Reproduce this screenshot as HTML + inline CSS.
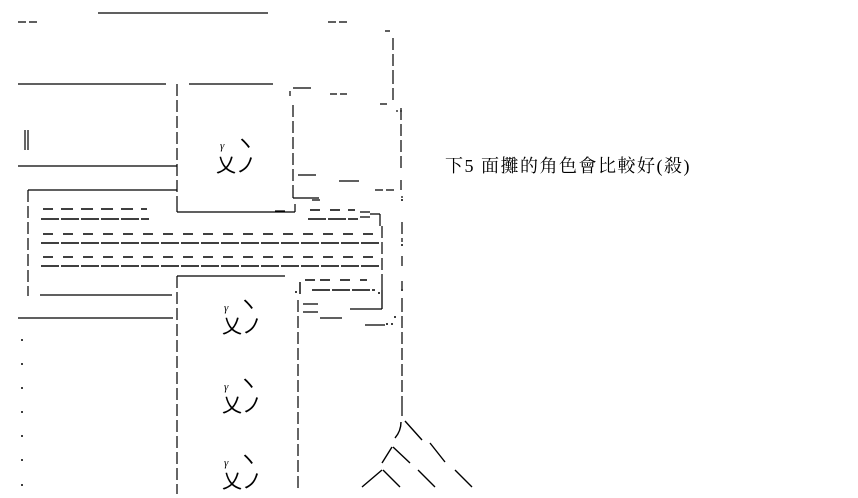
<!DOCTYPE html>
<html><head><meta charset="utf-8"><style>
html,body{margin:0;padding:0;background:#fff;width:858px;height:498px;overflow:hidden}
svg{display:block}
text{font-family:"Liberation Serif","Noto Serif CJK SC",serif;fill:#000}
</style></head><body>
<svg width="858" height="498" viewBox="0 0 858 498" xmlns="http://www.w3.org/2000/svg">
<g stroke="#000" stroke-width="1.2" fill="none">
<path d="M18 22h8M29 22h8M98 13h170M328 22h8M339 22h8M385 31h5"/>
<path d="M393 38v12M393 54v12M393 70v14M393 88v12"/>
<path d="M18 84h148M189 84h84"/>
<path d="M177 84v12M177 100v12M177 116v12M177 132v12M177 148v12M177 164v12M177 180v12M177 196v16"/>
<path d="M177 212h118M295 204v8M275 211h10"/>
<path d="M25 130v20M28 130v20"/>
<path d="M18 166h159M28 190h149M28 190v12M28 206v12M28 222v12M28 238v12M28 254v12M28 270v12M28 286v10"/>
<path d="M290 91v5M293 88h18M293 105v12M293 121v12M293 137v12M293 153v12M293 169v12M293 185v13M293 198h26M312 200h8"/>
<path d="M330 94h7M340 94h7M380 104h7M298 175h18M339 181h20M375 190h8M386 190h8"/>
<path d="M401 108v12M401 124v12M401 140v12M401 156v12M401 180v10"/>
<path d="M402 196v2M402 222v12M402 238v4M402 256v6M402 262v4M402 281v8M402 298v2M402 300v12M402 316v12M402 332v12M402 348v12M402 364v12M402 380v12M402 396v20"/>
<path d="M43 209h10M61 209h12M81 209h12M101 209h12M121 209h12M141 209h6" stroke-width="1.6"/>
<path d="M41 219h108" stroke-width="1.6" stroke-dasharray="18 2"/>
<path d="M43 234h340" stroke-width="1.6" stroke-dasharray="10 10"/>
<path d="M41 243h340" stroke-width="1.6" stroke-dasharray="18 2"/>
<path d="M43 257h340" stroke-width="1.6" stroke-dasharray="10 10"/>
<path d="M41 266h340" stroke-width="1.6" stroke-dasharray="18 2"/>
<path d="M310 210h10M330 210h10M348 210h7" stroke-width="1.6"/>
<path d="M308 219h50" stroke-width="1.6" stroke-dasharray="18 2"/>
<path d="M360 212h10M360 217h10M370 214h10M380 214v12M382 226v12M382 242v12M382 258v12M382 274v12M382 286v4"/>
<path d="M40 295h132M177 276h108M177 276v12M177 292v12M177 308v12"/>
<path d="M18 318h155"/>
<path d="M300 282v12M305 280h10M320 280h10M340 280h10M360 280h7" stroke-width="1.4"/>
<path d="M312 290h63" stroke-width="1.6" stroke-dasharray="18 2"/>
<path d="M298 300v12M298 316v12M298 332v12M298 348v12M298 364v12M298 380v12M298 396v12M298 412v12M298 428v12M298 444v12M298 460v12M298 476v12"/>
<path d="M177 324v12M177 340v12M177 356v12M177 372v12M177 388v12M177 404v12M177 420v12M177 436v12M177 452v12M177 468v12M177 484v10"/>
<path d="M303 304h15M303 312h15M320 318h22M350 309h32M382 290v19M365 325h20" stroke-width="1.3"/>
<path d="M401 422q0 9-6 16M405 421l17 19M392 447l-10 16M393 447l17 16M430 443l15 19M382 470l-20 17M383 470l17 17M418 470l17 17M455 470l17 17" stroke-width="1.4"/>
</g>
<g fill="#000">
<circle cx="401" cy="111" r="0.9"/><circle cx="397" cy="111" r="0.9"/>
<circle cx="402" cy="200" r="1"/><circle cx="402" cy="245" r="1"/><circle cx="402" cy="290" r="1"/>
<circle cx="296" cy="292" r="1"/><circle cx="379" cy="293" r="1"/>
<circle cx="387" cy="324" r="1"/><circle cx="392" cy="324" r="1"/><circle cx="395" cy="317" r="1"/>
<circle cx="22" cy="340" r="1"/><circle cx="22" cy="364" r="1"/><circle cx="22" cy="388" r="1"/><circle cx="22" cy="412" r="1"/><circle cx="22" cy="436" r="1"/><circle cx="22" cy="460" r="1"/><circle cx="22" cy="485" r="1"/>
</g>
<g font-size="11"><text x="220" y="149" font-style="italic">γ</text><text x="224" y="311" font-style="italic">γ</text><text x="224" y="390" font-style="italic">γ</text><text x="224" y="466" font-style="italic">γ</text></g>
<g font-size="20">
<text x="235" y="150" style="font-family:'Noto Sans CJK JP',sans-serif">ヽ</text>
<text x="216" y="172" style="font-family:'Noto Sans CJK JP',sans-serif">乂ノ</text>
<text x="238" y="311" style="font-family:'Noto Sans CJK JP',sans-serif">ヽ</text>
<text x="222" y="333" style="font-family:'Noto Sans CJK JP',sans-serif">乂ノ</text>
<text x="238" y="390" style="font-family:'Noto Sans CJK JP',sans-serif">ヽ</text>
<text x="222" y="412" style="font-family:'Noto Sans CJK JP',sans-serif">乂ノ</text>
<text x="238" y="466" style="font-family:'Noto Sans CJK JP',sans-serif">ヽ</text>
<text x="222" y="488" style="font-family:'Noto Sans CJK JP',sans-serif">乂ノ</text>
</g>
<text x="445" y="172" font-size="18" letter-spacing="1.5" style="font-family:'Liberation Serif','Noto Serif CJK SC',serif">下5 面攤的角色會比較好(殺)</text>
</svg>
</body></html>
